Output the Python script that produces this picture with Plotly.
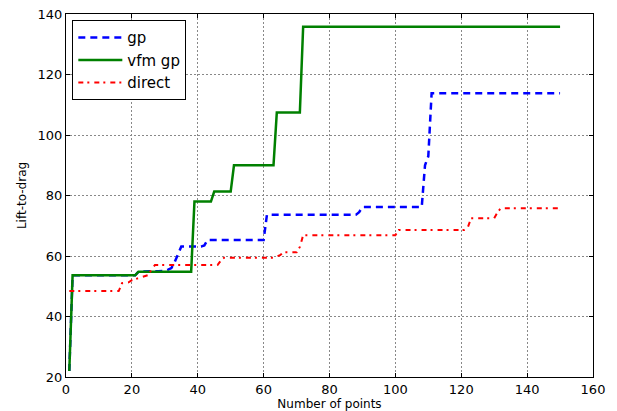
import plotly.graph_objects as go

# gp (blue dashed)
gp_x = [1, 2, 21, 22, 28, 30, 31, 32, 33, 34, 35, 41, 42, 43, 60, 61, 88, 89, 90, 108, 109, 110, 111, 150]
gp_y = [22, 53.6, 53.6, 54.8, 55.0, 55.1, 55.5, 56, 58, 60.5, 63.1, 63.1, 63.5, 65.3, 65.3, 73.6, 73.6, 74.5, 76.2, 76.2, 90, 93, 113.8, 113.8]

# vfm gp (green solid)
vfm_x = [1, 2, 21, 22, 38, 39, 44, 45, 50, 51, 63, 64, 71, 72, 150]
vfm_y = [22, 53.6, 53.6, 54.8, 54.8, 78, 78, 81.3, 81.3, 90, 90, 107.4, 107.4, 135.8, 135.8]

# direct (red dash-dot)
dir_x = [1, 16, 17, 19, 20, 23, 25, 26, 27, 46, 47, 48, 63, 65, 66, 70, 71, 72, 100, 101, 121, 122, 123, 130, 131, 132, 150]
dir_y = [48.4, 48.4, 51, 51.3, 52, 53, 53.7, 55.6, 57, 57, 58.5, 59.4, 59.4, 60.3, 61.2, 61.2, 63, 66.9, 66.9, 68.6, 68.6, 69.5, 72.5, 72.5, 74.4, 75.8, 75.8]

x_ticks = [0, 20, 40, 60, 80, 100, 120, 140, 160]
y_ticks = [20, 40, 60, 80, 100, 120, 140]

FONT = "DejaVu Sans"

fig = go.Figure()
fig.add_trace(go.Scatter(x=gp_x, y=gp_y, mode="lines", name="gp",
                         line=dict(color="#0000ff", width=2.5, dash="7px,5px")))
fig.add_trace(go.Scatter(x=vfm_x, y=vfm_y, mode="lines", name="vfm gp",
                         line=dict(color="#008000", width=2.5)))
fig.add_trace(go.Scatter(x=dir_x, y=dir_y, mode="lines", name="direct",
                         line=dict(color="#ff0000", width=2, dash="5px,4px,2px,5px")))

axis_common = dict(
    showline=True, linecolor="black", linewidth=1, mirror="allticks",
    ticks="inside", ticklen=4, tickcolor="black",
    showgrid=True, gridcolor="#888888", griddash="1.5px,2.5px", gridwidth=1,
    zeroline=False, tickfont=dict(family=FONT, size=13, color="black"),
    automargin=False,
)

fig.update_layout(
    width=617, height=411,
    margin=dict(l=66, r=24, t=14, b=34),
    paper_bgcolor="white", plot_bgcolor="white",
    font=dict(family=FONT, color="black"),
    xaxis=dict(range=[0, 160], tickvals=x_ticks, ticktext=[str(v) for v in x_ticks],
               title=dict(text="Number of points", font=dict(family=FONT, size=12), standoff=2),
               **axis_common),
    yaxis=dict(range=[20, 140], tickvals=y_ticks, ticktext=[str(v) for v in y_ticks],
               title=dict(text="Lift-to-drag", font=dict(family=FONT, size=12), standoff=8),
               **axis_common),
    legend=dict(x=0.012, y=0.983, xanchor="left", yanchor="top",
                bgcolor="white", bordercolor="black", borderwidth=1,
                font=dict(family=FONT, size=15, color="black"),
                itemwidth=44, tracegroupgap=0),
    showlegend=True,
)

fig.write_html("out.html")
